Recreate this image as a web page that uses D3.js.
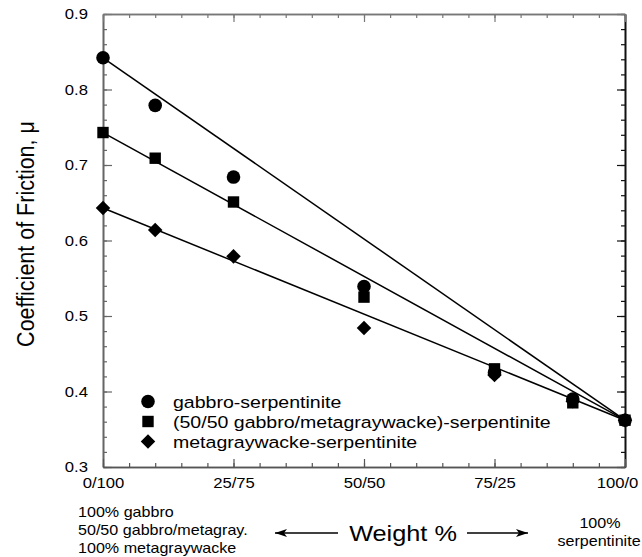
<!DOCTYPE html>
<html>
<head>
<meta charset="utf-8">
<script src="https://cdn.jsdelivr.net/npm/d3@7"></script>
<style>
  body { margin: 0; background: #fff; }
  text { font-family: "Liberation Sans", Arial, sans-serif; fill: #000; }
</style>
</head>
<body>
<div id="chart"></div>
<script>
// setting up constants
const FRAME_WIDTH = 642;
const FRAME_HEIGHT = 557;
const PLOT = {left: 103, right: 625, top: 14, bottom: 467};
const SX = 1.15; // text in the original is a bit wider than tall

// data
const mixes = [0, 10, 25, 50, 75, 90, 100];
const gabbroMu = [0.842, 0.779, 0.684, 0.539, 0.425, 0.390, 0.362];
const mixedMu = [0.743, 0.709, 0.651, 0.525, 0.430, 0.385, 0.362];
const metagMu = [0.643, 0.614, 0.579, 0.484, 0.422, 0.387, 0.362];
const fitX = [0, 100];
const gabbroFit = [0.842, 0.362];
const mixedFit = [0.743, 0.362];
const metagFit = [0.643, 0.362];

const xTicks = [0, 25, 50, 75, 100];
const xTickLabels = ["0/100", "25/75", "50/50", "75/25", "100/0"];
const yTicks = [0.3, 0.4, 0.5, 0.6, 0.7, 0.8, 0.9];
const seriesNames = ["gabbro-serpentinite",
  "(50/50 gabbro/metagraywacke)-serpentinite",
  "metagraywacke-serpentinite"];

const svg = d3.select("#chart").append("svg")
  .attr("width", FRAME_WIDTH)
  .attr("height", FRAME_HEIGHT);

const x = d3.scaleLinear().domain([0, 100]).range([PLOT.left, PLOT.right]);
const y = d3.scaleLinear().domain([0.3, 0.9]).range([PLOT.bottom, PLOT.top]);

const minorX = d3.range(0, 101, 5);
const minorY = d3.range(15, 46).map(d => d / 50);

function styleAxis(g, color) {
  g.select(".domain").attr("stroke", color).attr("stroke-width", 1.6);
  g.selectAll(".tick line").attr("stroke", color).attr("stroke-width", 1.2);
}

// minor ticks
svg.append("g").attr("transform", `translate(${PLOT.left},0)`)
  .call(d3.axisLeft(y).tickValues(minorY).tickSize(-4).tickSizeOuter(0).tickFormat(""))
  .call(g => styleAxis(g, "#666"));
svg.append("g").attr("transform", `translate(${PLOT.right},0)`)
  .call(d3.axisRight(y).tickValues(minorY).tickSize(-4).tickSizeOuter(0).tickFormat(""))
  .call(g => styleAxis(g, "#111"));
svg.append("g").attr("transform", `translate(0,${PLOT.bottom})`)
  .call(d3.axisBottom(x).tickValues(minorX).tickSize(-4).tickSizeOuter(0).tickFormat(""))
  .call(g => styleAxis(g, "#555"));
svg.append("g").attr("transform", `translate(0,${PLOT.top})`)
  .call(d3.axisTop(x).tickValues(minorX).tickSize(-4).tickSizeOuter(0).tickFormat(""))
  .call(g => styleAxis(g, "#777"));

// major ticks with labels
svg.append("g").attr("transform", `translate(${PLOT.left},0)`)
  .call(d3.axisLeft(y).tickValues(yTicks).tickSize(-9).tickSizeOuter(0)
    .tickPadding(15).tickFormat(d3.format(".1f")))
  .call(g => styleAxis(g, "#666"))
  .call(g => g.selectAll("text").attr("font-size", 14.5)
    .attr("x", -15 / SX).attr("transform", `scale(${SX},1)`));
svg.append("g").attr("transform", `translate(${PLOT.right},0)`)
  .call(d3.axisRight(y).tickValues(yTicks).tickSize(-8).tickSizeOuter(0).tickFormat(""))
  .call(g => styleAxis(g, "#111"));
svg.append("g").attr("transform", `translate(0,${PLOT.bottom})`)
  .call(d3.axisBottom(x).tickValues(xTicks).tickSize(-8).tickSizeOuter(0)
    .tickPadding(11).tickFormat((d, i) => xTickLabels[i]))
  .call(g => styleAxis(g, "#555"))
  .call(g => g.selectAll("text").attr("font-size", 14.5)
    .attr("x", d => d === 100 ? -8 / SX : 0)
    .attr("transform", `scale(${SX},1)`));
svg.append("g").attr("transform", `translate(0,${PLOT.top})`)
  .call(d3.axisTop(x).tickValues(xTicks).tickSize(-8).tickSizeOuter(0).tickFormat(""))
  .call(g => styleAxis(g, "#777"));

svg.selectAll(".tick text").attr("fill", "#000");

// fit lines
const line = d3.line().x(d => x(d[0])).y(d => y(d[1]));
[gabbroFit, mixedFit, metagFit].forEach(fit => {
  svg.append("path")
    .datum(fitX.map((v, i) => [v, fit[i]]))
    .attr("d", line)
    .attr("fill", "none")
    .attr("stroke", "#000")
    .attr("stroke-width", 1.5);
});

// markers
const shapes = [
  d3.symbol().type(d3.symbolCircle).size(145),
  d3.symbol().type(d3.symbolSquare).size(130),
  d3.symbol().type(d3.symbolDiamond2).size(135)
];
[gabbroMu, mixedMu, metagMu].forEach((vals, s) => {
  svg.append("g").selectAll("path")
    .data(vals)
    .enter()
    .append("path")
    .attr("d", shapes[s])
    .attr("transform", (d, i) => `translate(${x(mixes[i])},${y(d)})`)
    .attr("fill", "#000");
});

// legend
const legend = svg.append("g");
seriesNames.forEach((name, i) => {
  const ly = 401.5 + i * 20;
  legend.append("path").attr("d", shapes[i])
    .attr("transform", `translate(148,${ly})`).attr("fill", "#000");
  legend.append("text")
    .attr("transform", `translate(173,${ly + 6}) scale(${SX},1)`)
    .attr("font-size", 17)
    .text(name);
});

// text helper with horizontal stretch
function label(str, tx, ty, size, anchor) {
  svg.append("text")
    .attr("transform", `translate(${tx},${ty}) scale(${SX},1)`)
    .attr("font-size", size)
    .attr("text-anchor", anchor || "start")
    .text(str);
}

// y-axis title
svg.append("text")
  .attr("transform", `translate(34,234) scale(${SX},1) rotate(-90)`)
  .attr("font-size", 21.5)
  .attr("text-anchor", "middle")
  .text("Coefficient of Friction, \u03bc");

// x-axis annotations
label("100% gabbro", 78, 517, 14);
label("50/50 gabbro/metagray.", 78, 535, 14);
label("100% metagraywacke", 78, 553, 14);
label("100%", 600, 528, 14, "middle");
label("serpentinite", 599, 546, 14, "middle");
label("Weight %", 403, 541, 22, "middle");

// arrows
const defs = svg.append("defs");
defs.append("marker")
  .attr("id", "arrowhead")
  .attr("viewBox", "0 0 12 8")
  .attr("refX", 12).attr("refY", 4)
  .attr("markerWidth", 12).attr("markerHeight", 8)
  .attr("markerUnits", "userSpaceOnUse")
  .attr("orient", "auto")
  .append("path")
  .attr("d", "M0,0 L12,4 L0,8 L3,4 Z")
  .attr("fill", "#000");

svg.append("line")
  .attr("x1", 338).attr("y1", 533).attr("x2", 275).attr("y2", 533)
  .attr("stroke", "#000").attr("stroke-width", 1.3)
  .attr("marker-end", "url(#arrowhead)");
svg.append("line")
  .attr("x1", 467).attr("y1", 533).attr("x2", 528).attr("y2", 533)
  .attr("stroke", "#000").attr("stroke-width", 1.3)
  .attr("marker-end", "url(#arrowhead)");
</script>
</body>
</html>
